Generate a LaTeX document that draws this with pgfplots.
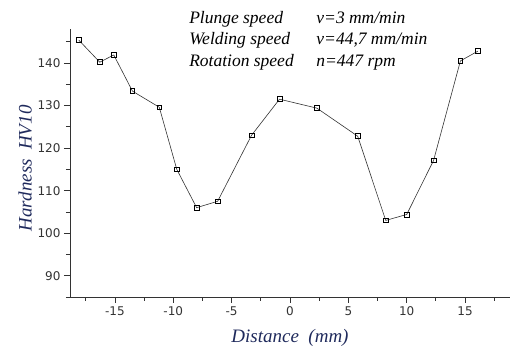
\documentclass[border=0pt]{standalone}
\usepackage{fontspec}
\setmainfont{Liberation Serif}
\newfontfamily\ticksf{DejaVu Sans}
\usepackage{pgfplots}
\pgfplotsset{compat=1.18}
\definecolor{lblnavy}{HTML}{1F2A5C}
\definecolor{linegray}{HTML}{333333}
\pgfplotstableread{
x y
-18.1 145.4
-16.3 140.2
-15.1 141.9
-13.5 133.4
-11.2 129.6
-9.7 115.0
-8.0 106.0
-6.2 107.5
-3.3 123.0
-0.9 131.5
2.3 129.4
5.8 122.8
8.2 103.0
10.0 104.4
12.3 117.1
14.6 140.5
16.1 142.8
}\hardness
\begin{document}
\begin{tikzpicture}
\begin{axis}[
  at={(0,0)}, anchor=south west,
  scale only axis, width=440pt, height=268pt,
  xmin=-18.85, xmax=18.85, ymin=85, ymax=148,
  axis x line*=bottom, axis y line*=left,
  axis line style={-, line width=0.8pt, color=black!80},
  xtick={-15,-10,-5,0,5,10,15},
  minor xtick={-17.5,-12.5,-7.5,-2.5,2.5,7.5,12.5,17.5},
  ytick={90,100,110,120,130,140},
  minor ytick={85,95,105,115,125,135,145},
  tick align=outside,
  major tick length=6pt, minor tick length=4pt,
  every tick/.style={black!80, line width=0.8pt},
  tick label style={font=\ticksf\fontsize{12}{14}\selectfont, text=black!80},
  /pgf/number format/assume math mode=true,
  xlabel={\itshape Distance\ \ (mm)},
  ylabel={\itshape Hardness\ \ HV10},
  label style={font=\fontsize{19}{21}\selectfont, text=lblnavy},
  xlabel style={at={(axis description cs:0.5,-0.153)}, anchor=center},
  ylabel style={at={(axis description cs:-0.102,0.48)}, anchor=center},
  clip=false,
]
\addplot[color=linegray, line width=0.6pt, mark=square, mark size=2.4pt,
  mark options={solid, fill=white, draw=black, line width=0.7pt}]
  table[x=x, y=y] {\hardness};
\node[anchor=base west, font=\fontsize{17.5}{19}\selectfont\itshape] at (rel axis cs:0.263,1.0187) {Plunge speed};
\node[anchor=base west, font=\fontsize{17.5}{19}\selectfont\itshape] at (rel axis cs:0.263,0.9403) {Welding speed};
\node[anchor=base west, font=\fontsize{17.5}{19}\selectfont\itshape] at (rel axis cs:0.263,0.8619) {Rotation speed};
\node[anchor=base west, font=\fontsize{17.5}{19}\selectfont\itshape] at (rel axis cs:0.552,1.0187) {ν=3 mm/min};
\node[anchor=base west, font=\fontsize{17.5}{19}\selectfont\itshape] at (rel axis cs:0.552,0.9403) {ν=44,7 mm/min};
\node[anchor=base west, font=\fontsize{17.5}{19}\selectfont\itshape] at (rel axis cs:0.552,0.8619) {n=447 rpm};
\end{axis}
\pgfresetboundingbox
\path (-70pt,-50pt) rectangle (440pt,297pt);
\end{tikzpicture}
\end{document}
